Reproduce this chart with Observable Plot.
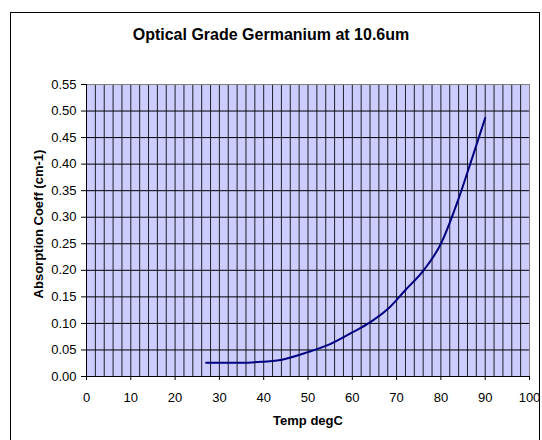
<!DOCTYPE html>
<html>
<head>
<meta charset="utf-8">
<script src="https://cdn.jsdelivr.net/npm/d3@7"></script>
<script src="https://cdn.jsdelivr.net/npm/@observablehq/plot@0.6"></script>
<style>
  html, body { margin: 0; padding: 0; background: #fff; }
  #wrap { position: relative; width: 542px; height: 440px; overflow: hidden; font-family: Arial, "Liberation Sans", sans-serif; }
  #border { position: absolute; left: 10px; top: 12px; width: 530px; height: 460px; border: 1px solid #000; box-sizing: border-box; }
  .lbl { position: absolute; font-weight: bold; color: #000; white-space: nowrap; }
  #title { left: 0; width: 542px; text-align: center; top: 26px; font-size: 16px; }
  #xlab { left: 208px; width: 200px; text-align: center; top: 413px; font-size: 13px; }
  #ylab { left: 38px; top: 224px; font-size: 13px; transform: translate(-50%, -50%) rotate(-90deg); }
  #chart { position: absolute; left: 0; top: 0; }
</style>
</head>
<body>
<div id="wrap">
  <div id="chart"></div>
  <div id="border"></div>
  <div class="lbl" id="title">Optical Grade Germanium at 10.6um</div>
  <div class="lbl" id="ylab">Absorption Coeff (cm-1)</div>
  <div class="lbl" id="xlab">Temp degC</div>
</div>
<script>
const temps  = [27, 35, 40, 43, 50, 55, 60, 64, 68, 72, 76, 80, 84, 87, 90];
const coeffs = [0.026, 0.026, 0.028, 0.030, 0.046, 0.061, 0.083, 0.102, 0.127, 0.163, 0.199, 0.250, 0.335, 0.410, 0.487];
const xTicks = [0, 10, 20, 30, 40, 50, 60, 70, 80, 90, 100];
const yTicks = [0, 0.05, 0.10, 0.15, 0.20, 0.25, 0.30, 0.35, 0.40, 0.45, 0.50, 0.55];
const xGrid = d3.range(2, 100, 2);

const data = temps.map((t, i) => ({t, v: coeffs[i]}));

const chart = Plot.plot({
  width: 542,
  height: 440,
  marginLeft: 86,
  marginRight: 13,
  marginTop: 84,
  marginBottom: 64,
  style: { fontFamily: "Arial, 'Liberation Sans', sans-serif", fontSize: "13px", color: "#000", background: "transparent" },
  x: { domain: [0, 100] },
  y: { domain: [0, 0.55] },
  marks: [
    Plot.frame({ fill: "#CCCCFF", stroke: "none" }),
    Plot.ruleX(xGrid, { x: d => d, stroke: "#000", strokeOpacity: 0.85, strokeWidth: 1 }),
    Plot.ruleY(yTicks.slice(1), { y: d => d, stroke: "#000", strokeWidth: 1 }),
    Plot.frame({ stroke: "#808080", strokeWidth: 1 }),
    Plot.ruleX([0], { stroke: "#000" }),
    Plot.ruleY([0], { stroke: "#000" }),
    Plot.axisX({ ticks: xTicks, tickSize: 4, tickPadding: 12, label: null, tickFormat: d3.format("d") }),
    Plot.axisY({ ticks: yTicks, tickSize: 5, tickPadding: 5, label: null, tickFormat: d3.format(".2f") }),
    Plot.line(data, { x: "t", y: "v", stroke: "#000080", strokeWidth: 2, curve: "monotone-x" })
  ]
});
document.getElementById("chart").appendChild(chart);
</script>
</body>
</html>
